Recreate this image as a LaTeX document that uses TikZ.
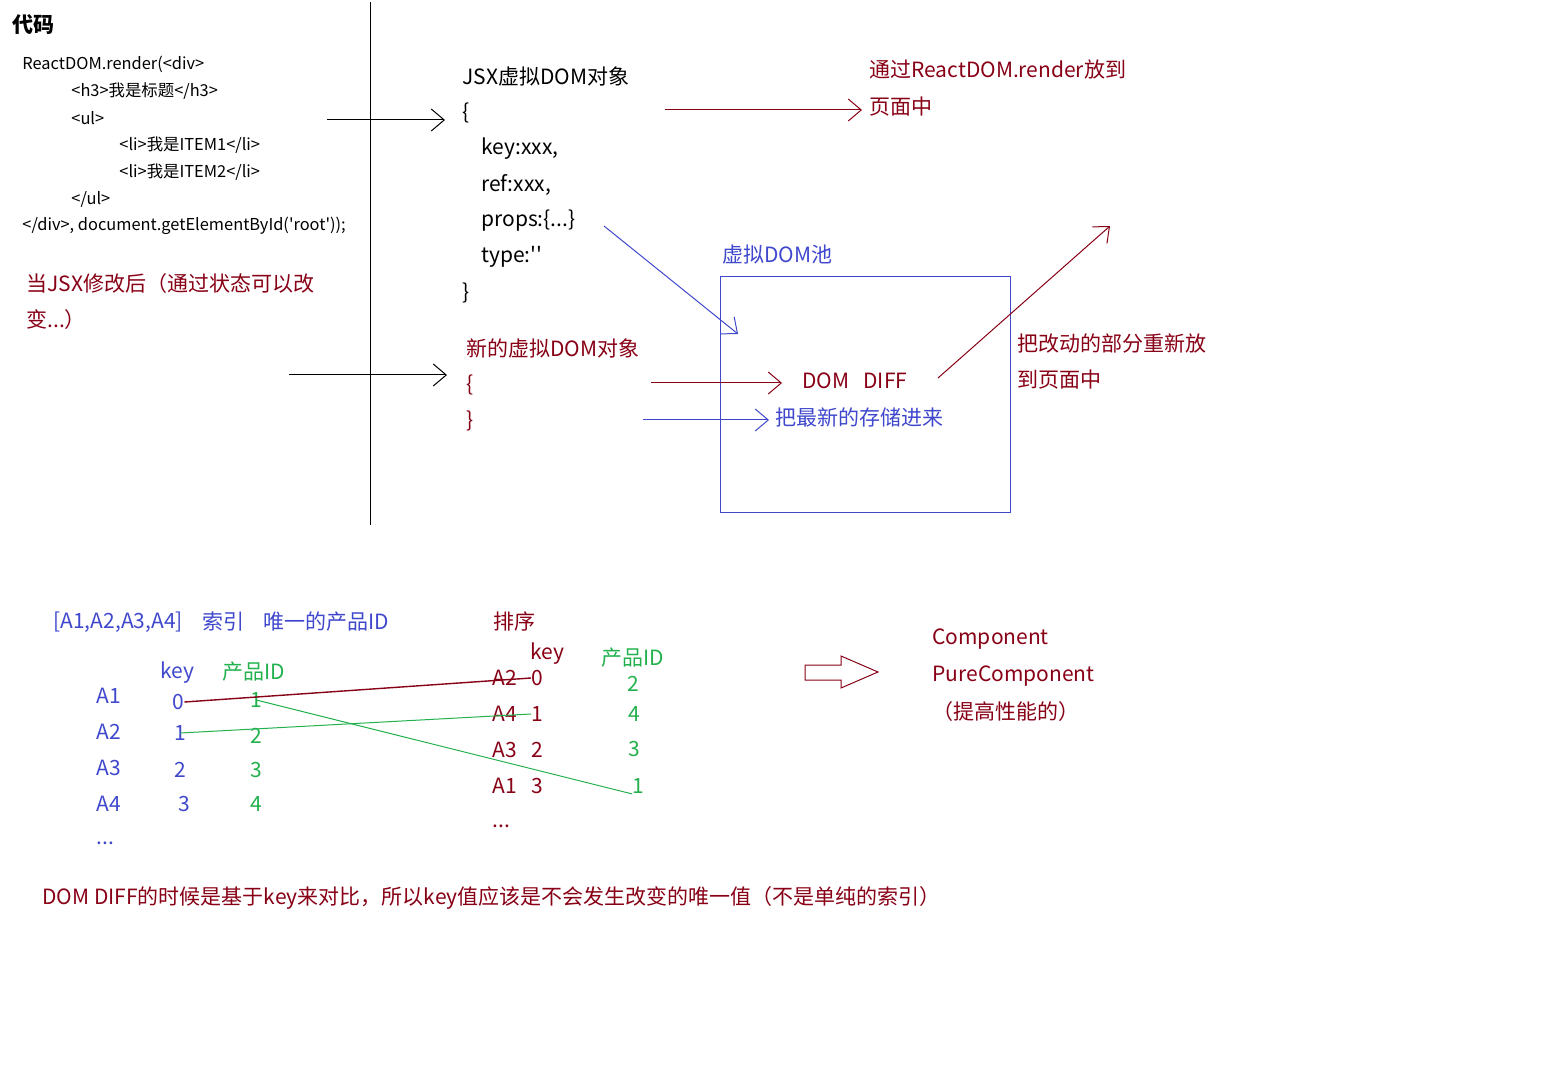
\documentclass[tikz,border=0pt]{standalone}
\usepackage{fontspec}
\setmainfont{Noto Sans CJK SC}
\usetikzlibrary{arrows.meta}
\definecolor{paintred}{RGB}{136,0,21}
\definecolor{paintblue}{RGB}{63,72,204}
\definecolor{paintgreen}{RGB}{34,177,76}
\tikzset{
  % --- texts -----------------------------------------------------------------
  txt/.style={anchor=west,inner sep=0pt,font=\fontsize{10.5}{12}\selectfont},
  codetxt/.style={txt,font=\fontsize{8.2}{10}\selectfont},
  redtxt/.style={txt,text=paintred},
  bluetxt/.style={txt,text=paintblue},
  greentxt/.style={txt,text=paintgreen},
  % --- hand drawn arrows -----------------------------------------------------
  barb/.style={-{Straight Barb[length=6.5pt,width=11pt]},line width=0.5pt},
  blackarr/.style={barb,black},
  redarr/.style={barb,paintred},
  bluearr/.style={barb,paintblue},
  % --- matching lines between the two tables ---------------------------------
  redlink/.style={paintred,line width=0.7pt},
  greenlink/.style={paintgreen,line width=0.5pt},
}

\begin{document}
\begin{tikzpicture}[x=0.5pt, y=-0.5pt]
  \useasboundingbox (0,0) rectangle (1568,1080);
  % --- the code ------------------------------------------------------------
  \node[txt,font=\bfseries\fontsize{10.5}{12}\selectfont] (title) at (12,25) {代码};
  \node[codetxt] (c1) at (22,64)  {ReactDOM.render(<div>};
  \node[codetxt] (c2) at (71,91)  {<h3>我是标题</h3>};
  \node[codetxt] (c3) at (71,118) {<ul>};
  \node[codetxt] (c4) at (119,145) {<li>我是ITEM1</li>};
  \node[codetxt] (c5) at (119,172) {<li>我是ITEM2</li>};
  \node[codetxt] (c6) at (71,199) {</ul>};
  \node[codetxt] (c7) at (22,226) {</div>, document.getElementById(\textquotesingle root\textquotesingle));};

  \node[redtxt] (chg1) at (26,284) {当JSX修改后（通过状态可以改};
  \node[redtxt] (chg2) at (26,320) {变...）};

  \coordinate (vtop) at (370,2);
  \coordinate (vbot) at (370,525);
  \draw[line width=0.5pt] (vtop) -- (vbot);
  \coordinate (codeout) at (327,120);
  \coordinate (jsxin)   at (445,120);
  \draw[blackarr] (codeout) -- (jsxin);
  \coordinate (chgout) at (289,375);
  \coordinate (newin)  at (447,375);
  \draw[blackarr] (chgout) -- (newin);

  % --- the JSX object ------------------------------------------------------
  \node[txt] (jsx) at (462,76) {JSX虚拟DOM对象};
  \node[txt] (jsxob) at (462,113) {\{};
  \node[txt] (fkey)   at (481,149) {key:xxx,};
  \node[txt] (fref)   at (481,185) {ref:xxx,};
  \node[txt] (fprops) at (481,221) {props:\{...\}};
  \node[txt] (ftype)  at (481,257) {type:\textquotesingle\textquotesingle};
  \node[txt] (jsxcb) at (462,293) {\}};

  \coordinate (renderout) at (665,110);
  \coordinate (renderin)  at (862,110);
  \draw[redarr] (renderout) -- (renderin);
  \node[redtxt] (put1) at (869,70)  {通过ReactDOM.render放到};
  \node[redtxt] (put2) at (869,107) {页面中};

  % --- the pool ------------------------------------------------------------
  \node[bluetxt] (pooltitle) at (722,255) {虚拟DOM池};
  \draw[paintblue,line width=0.5pt] (720,277) rectangle (1010,512);
  \coordinate (propsout) at (604,226);
  \coordinate (poolin)   at (738,334);
  \draw[bluearr] (propsout) -- (poolin);

  \node[redtxt] (newobj) at (466,348) {新的虚拟DOM对象};
  \node[redtxt] (newob)  at (466,385) {\{};
  \node[redtxt] (newcb)  at (466,421) {\}};

  \coordinate (newout) at (651,383);
  \coordinate (diffin) at (782,383);
  \draw[redarr] (newout) -- (diffin);
  \node[redtxt] (diff) at (802,381) {DOM\hspace{7pt}DIFF};
  \coordinate (storeout) at (643,420);
  \coordinate (storein)  at (769,420);
  \draw[bluearr] (storeout) -- (storein);
  \node[bluetxt] (store) at (775,417) {把最新的存储进来};

  \coordinate (diffout) at (938,378);
  \coordinate (pagein)  at (1110,226);
  \draw[redarr] (diffout) -- (pagein);
  \node[redtxt] (repl1) at (1017,344) {把改动的部分重新放};
  \node[redtxt] (repl2) at (1017,380) {到页面中};

  % --- keys: index vs. product id -------------------------------------------
  \node[bluetxt] (alist) at (53,622)  {[A1,A2,A3,A4]};
  \node[bluetxt] (aidx)  at (202,622) {索引};
  \node[bluetxt] (auid)  at (263,622) {唯一的产品ID};
  \node[redtxt]  (sort)  at (493,621) {排序};

  \node[bluetxt]  (lkey) at (160,673) {key};
  \node[greentxt] (lid)  at (222,672) {产品ID};
  \foreach \n/\y in {1/696,2/732,3/768,4/804}
    \node[bluetxt] (ln\n) at (96,\y) {A\n};
  \node[bluetxt] (ldots) at (96,843) {...};
  \node[bluetxt] (lk0) at (172,702) {0};
  \node[bluetxt] (lk1) at (174,733) {1};
  \node[bluetxt] (lk2) at (174,770) {2};
  \node[bluetxt] (lk3) at (178,804) {3};
  \foreach \n/\y in {1/700,2/736,3/770,4/804}
    \node[greentxt] (lp\n) at (250,\y) {\n};

  \node[redtxt]   (rkey) at (530,654) {key};
  \node[greentxt] (rid)  at (601,658) {产品ID};
  \foreach \a/\k/\y in {2/0/678,4/1/714,3/2/750,1/3/786} {
    \node[redtxt] (rn\k) at (492,\y) {A\a};
    \node[redtxt] (rk\k) at (531,\y) {\k};
  }
  \node[redtxt] (rdots) at (492,826) {...};
  \node[greentxt] (rp2) at (627,684) {2};
  \node[greentxt] (rp4) at (628,714) {4};
  \node[greentxt] (rp3) at (628,749) {3};
  \node[greentxt] (rp1) at (632,786) {1};

  \draw[redlink]   (lk0.east) -- (rk0.west);
  \draw[greenlink] (lk1.center) -- (rk1.west);
  \draw[greenlink] (lp1.center) -- (rp1.south west);

  % --- hollow arrow and result ---------------------------------------------
  \draw[paintred,line width=0.5pt] (805,665) -- (841,665) -- (841,656) -- (878,672)
    -- (841,688) -- (841,680) -- (805,680) -- cycle;
  \node[redtxt] (comp) at (932,639) {Component};
  \node[redtxt] (pure) at (932,676) {PureComponent};
  \node[redtxt] (perf) at (932,712) {（提高性能的）};

  \node[redtxt] (concl) at (42,898) {DOM DIFF的时候是基于key来对比，所以key值应该是不会发生改变的唯一值（不是单纯的索引）};
\end{tikzpicture}
\end{document}
